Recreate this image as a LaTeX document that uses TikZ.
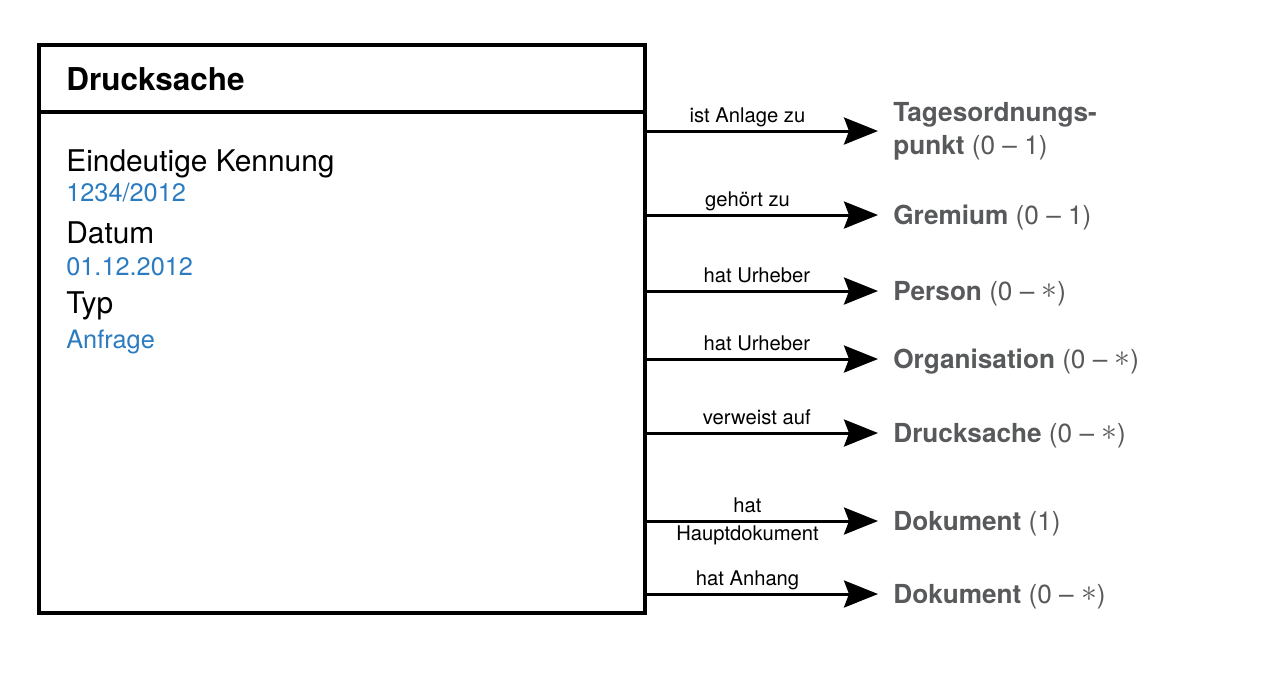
\documentclass[tikz,border=0pt]{standalone}
\usepackage{fontspec}
\usepackage{graphicx}
\setmainfont{TeX Gyre Heros}
\usetikzlibrary{arrows.meta}
\definecolor{wertblau}{RGB}{43,123,193}
\definecolor{zielgrau}{RGB}{88,89,91}
\newcommand{\stern}{\raisebox{0.08em}{\scalebox{1.25}{$\ast$}}}
\begin{document}
\begin{tikzpicture}[
  rel/.style={line width=1.7pt,-{Stealth[length=0.68cm,width=0.54cm,inset=0.1cm]}},
  rellabel/.style={anchor=base,inner sep=0pt,pos=0.44,yshift=0.18cm,font=\fontsize{11.5}{13}\selectfont},
  ziel/.style={anchor=west,inner xsep=0.3cm,inner ysep=0pt,align=left,text=zielgrau,font=\fontsize{14.9}{18.8}\selectfont},
  zeile/.style={ziel,text height=11pt,text depth=0pt},
  attr/.style={anchor=base west,inner sep=0pt,font=\fontsize{17}{19}\selectfont},
  wert/.style={anchor=base west,inner sep=0pt,text=wertblau,font=\fontsize{14.4}{16}\selectfont}]
\useasboundingbox (0,0) rectangle (25.38,-13.7);
\node[draw,line width=2pt,outer sep=0pt,minimum width=12.12cm,minimum height=11.36cm,anchor=north west] (ds) at (0.78,-0.9) {};
\draw[line width=2pt] ([yshift=-1.34cm]ds.north west) -- ([yshift=-1.34cm]ds.north east);
\node[anchor=base west,inner sep=0pt,font=\bfseries\fontsize{17.9}{20}\selectfont] (titel) at (1.32,-1.81) {Drucksache};
\node[attr] (kennung) at (1.32,-3.43) {Eindeutige Kennung};
\node[wert] (kennungwert) at (1.32,-4.03) {1234/2012};
\node[attr] (datum) at (1.32,-4.86) {Datum};
\node[wert] (datumwert) at (1.32,-5.51) {01.12.2012};
\node[attr] (typ) at (1.32,-6.26) {Typ};
\node[wert] (typwert) at (1.32,-6.96) {Anfrage};
\node[ziel] (top) at (17.56,-2.62) {\textbf{Tagesordnungs-}\\\textbf{punkt} (0 – 1)};
\node[zeile] (gre) at (17.56,-4.30) {\textbf{Gremium} (0 – 1)};
\node[zeile] (per) at (17.56,-5.82) {\textbf{Person} (0 – \stern)};
\node[zeile] (org) at (17.56,-7.18) {\textbf{Organisation} (0 – \stern)};
\node[zeile] (dru) at (17.56,-8.66) {\textbf{Drucksache} (0 – \stern)};
\node[zeile] (hdok) at (17.56,-10.42) {\textbf{Dokument} (1)};
\node[zeile] (adok) at (17.56,-11.88) {\textbf{Dokument} (0 – \stern)};
\draw[rel] (ds.east |- top.west) -- (top.west) node[rellabel] {ist Anlage zu};
\draw[rel] (ds.east |- gre.west) -- (gre.west) node[rellabel] {gehört zu};
\draw[rel] (ds.east |- per.west) -- (per.west) node[rellabel,pos=0.48] {hat Urheber};
\draw[rel] (ds.east |- org.west) -- (org.west) node[rellabel,pos=0.48] {hat Urheber};
\draw[rel] (ds.east |- dru.west) -- (dru.west) node[rellabel,pos=0.48] {verweist auf};
\draw[rel] (ds.east |- hdok.west) -- (hdok.west) node[rellabel] {hat} node[rellabel,yshift=-0.56cm] {Hauptdokument};
\draw[rel] (ds.east |- adok.west) -- (adok.west) node[rellabel] {hat Anhang};
\end{tikzpicture}
\end{document}
